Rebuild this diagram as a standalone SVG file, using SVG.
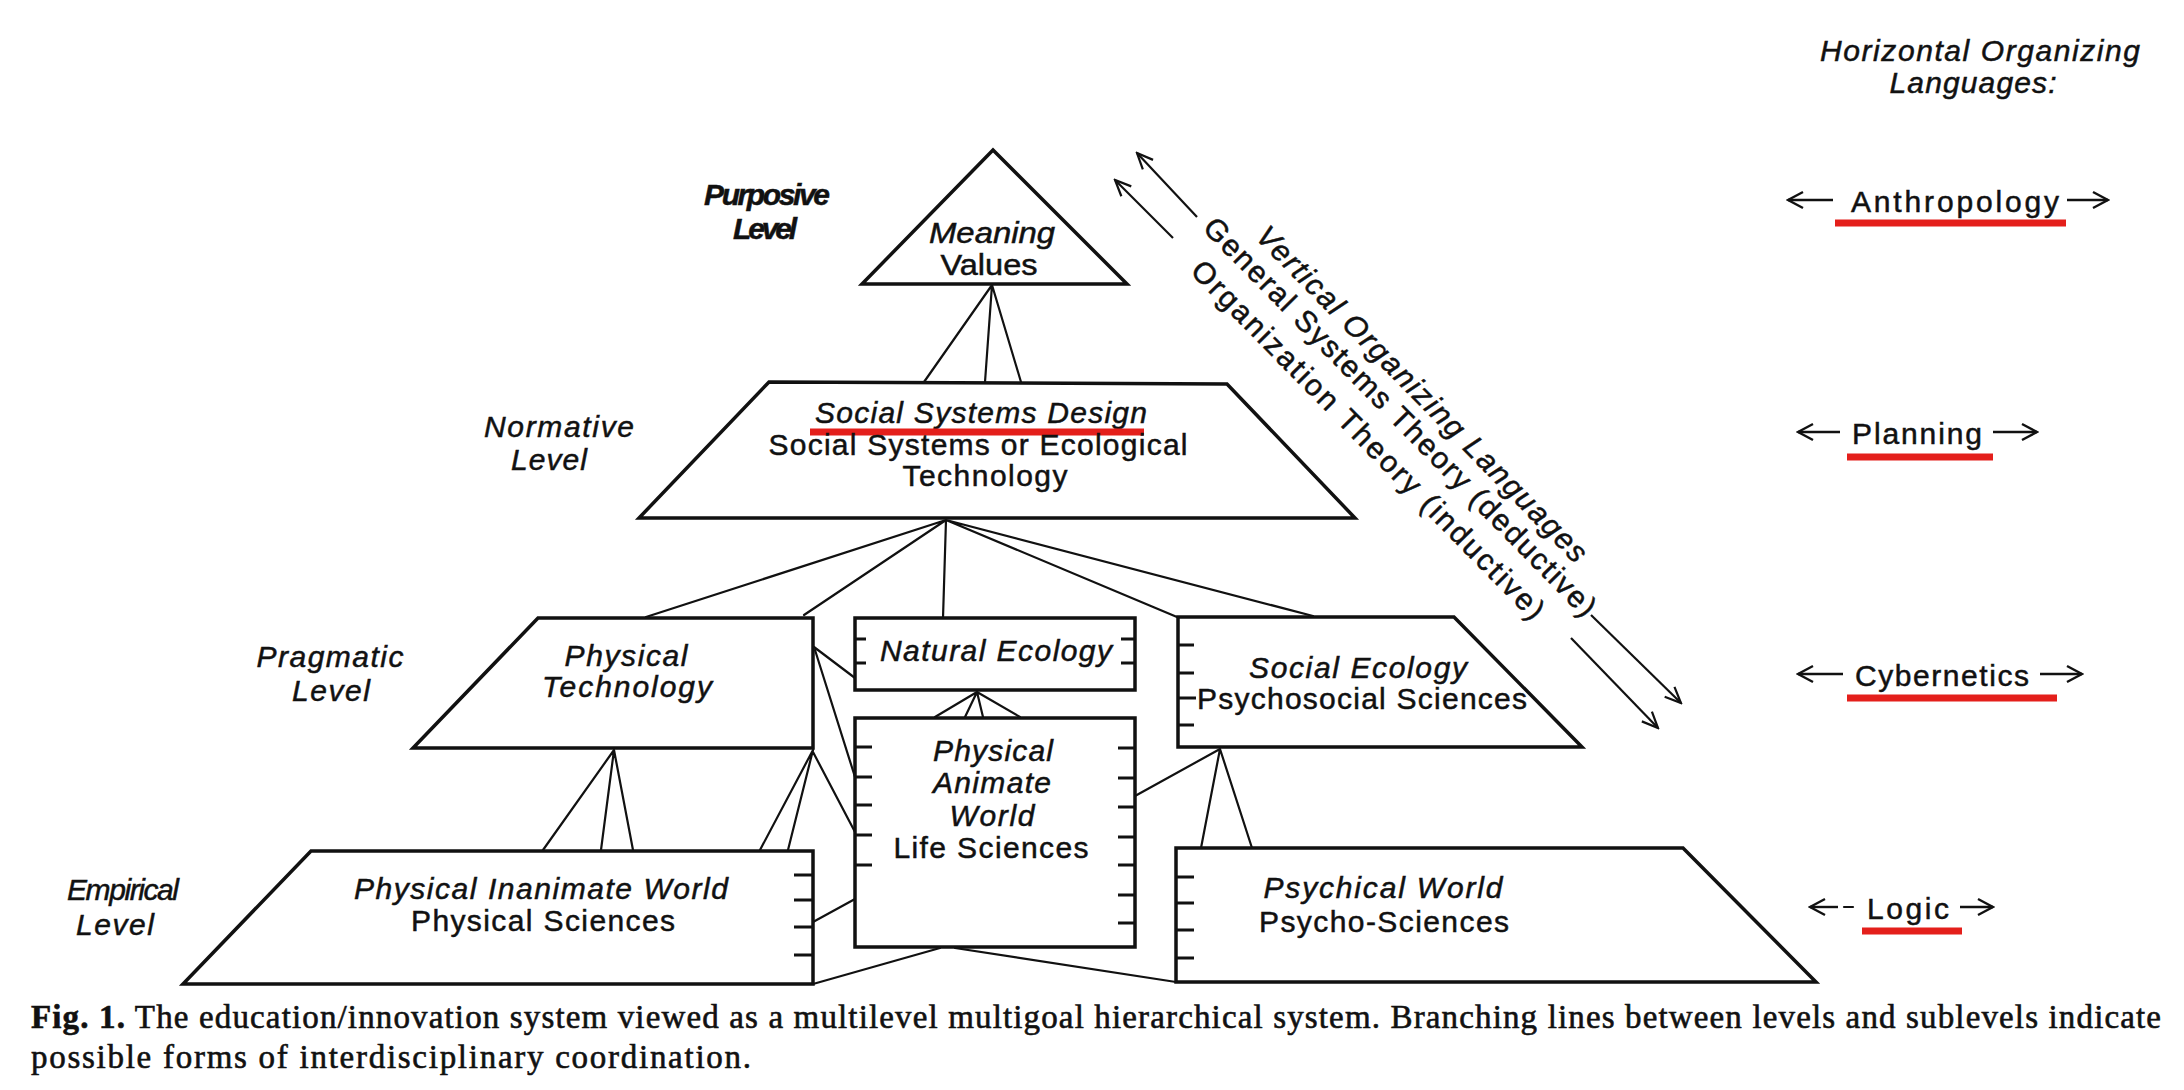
<svg xmlns="http://www.w3.org/2000/svg" width="2184" height="1090" viewBox="0 0 2184 1090">
<style>
.shape{fill:#fff;stroke:#111;stroke-width:3.5;stroke-linejoin:miter}
.ln{stroke:#111;stroke-width:2.2;fill:none;stroke-linecap:round}
.hl{stroke:#111;stroke-width:1.8;fill:none}
.tk{stroke:#111;stroke-width:2.8;fill:none}
.t{font-family:"Liberation Sans",Arial,Helvetica,sans-serif;fill:#111;stroke:#111;stroke-width:0.5;font-size:30px;text-anchor:middle}
.i{font-style:italic}
.b{font-weight:bold}
.red{stroke:#e41f1b;stroke-width:7;fill:none}
.arr{stroke:#111;stroke-width:2.4;fill:none;marker-end:url(#ah)}
.darr{stroke:#111;stroke-width:2.2;fill:none;marker-end:url(#ahd)}
.cap{font-family:"Liberation Serif","Times New Roman",serif;fill:#111;stroke:#111;stroke-width:0.6;font-size:33px}
</style>
<defs>
<marker id="ah" viewBox="0 0 20 20" markerUnits="userSpaceOnUse" markerWidth="20" markerHeight="20" refX="18" refY="10" orient="auto">
<path d="M3,2 L18,10 L3,18" fill="none" stroke="#111" stroke-width="2.4"/>
</marker>
<marker id="ahd" viewBox="0 0 20 20" markerUnits="userSpaceOnUse" markerWidth="20" markerHeight="20" refX="18" refY="10" orient="auto">
<path d="M2,3 L18,10 L2,17" fill="none" stroke="#111" stroke-width="2.2"/>
</marker>
</defs>
<rect width="2184" height="1090" fill="#fff"/>

<g id="connectors">
<path class="ln" d="M992,285 L924,382 M992,285 L985,382 M992,285 L1021,382"/>
<path class="ln" d="M946,520 L646,617 M946,520 L804,615 M946,520 L943,618 M946,520 L1177,617 M946,520 L1313,616"/>
<path class="ln" d="M614,750 L543,850 M614,750 L601,850 M614,750 L633,850"/>
<path class="ln" d="M813,750 L760,850 M813,750 L788,850 M813,752 L855,832"/>
<path class="ln" d="M814,647 L855,678 M815,650 L855,777"/>
<path class="ln" d="M977,692 L935,717 M977,692 L965,717 M977,692 L983,717 M977,692 L1020,717"/>
<path class="ln" d="M813,922 L855,899"/>
<path class="ln" d="M940,948 L813,984 M955,948 L1176,982"/>
<path class="ln" d="M1220,749 L1201,848 M1220,749 L1252,848 M1220,749 L1135,796"/>
<path class="hl" d="M796,621 L775,648 M796,621 L808,648 M796,621 L791,648 M796,621 L800,648
M777,650 L762,680 M777,650 L770,680 M777,650 L778,680 M777,650 L788,680 M777,650 L783,680
M788,682 L773,708 M788,682 L782,708 M788,682 L792,708 M788,682 L800,708
M768,710 L745,747 M768,710 L753,747 M768,710 L762,747 M768,710 L772,747
M795,711 L778,747 M795,711 L797,747 M795,711 L810,747"/>
<path class="tk" d="M765,648 H813 M760,680 H813 M755,708 H813"/>
<path class="hl" d="M880,867 L858,893 H895 Z M880,867 L868,893 M877,872 V893"/>
<path class="hl" d="M855,899 L898,947 M855,919 H875 M874,921 L860,947 M874,921 L868,947 M879,926 V947"/>
</g>

<g id="purposive">
<polygon class="shape" points="993,150 1127,284 862,284"/>
<text class="t i" x="992" y="243" font-size="28" textLength="126" lengthAdjust="spacingAndGlyphs">Meaning</text>
<text class="t" x="989" y="275" font-size="28" textLength="97" lengthAdjust="spacingAndGlyphs">Values</text>
</g>

<g id="normative">
<polygon class="shape" points="769,382 1227,384 1355,518 639,518"/>
<text class="t i" x="981" y="423" textLength="332">Social Systems Design</text>
<line class="red" x1="810" y1="432" x2="1144" y2="432"/>
<text class="t" x="978" y="455" font-size="29" textLength="419">Social Systems or Ecological</text>
<text class="t" x="985" y="486" font-size="29" textLength="165">Technology</text>
</g>

<g id="physical-technology">
<polygon class="shape" points="538,618 813,618 813,748 413,748"/>
<text class="t i" x="626" y="666" textLength="123">Physical</text>
<text class="t i" x="627" y="697" textLength="170">Technology</text>
</g>

<g id="natural-ecology">
<rect class="shape" x="855" y="618" width="280" height="72"/>
<path class="tk" d="M855,639 H866 M855,663 H866 M1121,639 H1135 M1121,663 H1135"/>
<text class="t i" x="996" y="661" textLength="232">Natural Ecology</text>
</g>

<g id="physical-animate-world">
<rect class="shape" x="855" y="718" width="280" height="229"/>
<path class="tk" d="M855,747 H872 M855,777 H872 M855,805 H872 M855,835 H872 M855,865 H872
M1118,748 H1135 M1118,778 H1135 M1118,807 H1135 M1118,837 H1135 M1118,865 H1135 M1118,895 H1135 M1118,923 H1135"/>
<text class="t i" x="993" y="761" textLength="120">Physical</text>
<text class="t i" x="992" y="793" textLength="118">Animate</text>
<text class="t i" x="992" y="826" textLength="85">World</text>
<text class="t" x="991" y="858" textLength="195">Life Sciences</text>
</g>

<g id="social-ecology">
<polygon class="shape" points="1178,617 1454,617 1582,747 1178,747"/>
<path class="tk" d="M1178,645 H1194 M1178,673 H1194 M1178,698 H1196 M1178,725 H1194"/>
<text class="t i" x="1358" y="678" textLength="218">Social Ecology</text>
<text class="t" x="1362" y="709" textLength="330">Psychosocial Sciences</text>
</g>

<g id="physical-inanimate-world">
<polygon class="shape" points="311,851 813,851 813,984 183,984"/>
<path class="tk" d="M794,875 H813 M794,900 H813 M794,927 H813 M794,955 H813"/>
<text class="t i" x="541" y="899" textLength="374">Physical Inanimate World</text>
<text class="t" x="543" y="931" textLength="264">Physical Sciences</text>
</g>

<g id="psychical-world">
<polygon class="shape" points="1176,848 1683,848 1816,982 1176,982"/>
<path class="tk" d="M1176,877 H1194 M1176,903 H1194 M1176,930 H1194 M1176,958 H1194"/>
<text class="t i" x="1383" y="898" textLength="239">Psychical World</text>
<text class="t" x="1384" y="932" textLength="250">Psycho-Sciences</text>
</g>

<g id="level-labels">
<text class="t i b" x="767" y="205" font-size="27" textLength="126">Purposive</text>
<text class="t i b" x="765" y="239" font-size="27" textLength="64">Level</text>
<text class="t i" x="559" y="437" textLength="150">Normative</text>
<text class="t i" x="549" y="470" textLength="76">Level</text>
<text class="t i" x="330" y="667" textLength="147">Pragmatic</text>
<text class="t i" x="331" y="701" textLength="78">Level</text>
<text class="t i" x="123" y="900" textLength="112">Empirical</text>
<text class="t i" x="115" y="935" textLength="78">Level</text>
</g>

<g id="vertical-languages">
<line class="darr" x1="1197" y1="217" x2="1137" y2="153"/>
<line class="darr" x1="1173" y1="238" x2="1115" y2="180"/>
<line class="darr" x1="1591" y1="615" x2="1681" y2="703"/>
<line class="darr" x1="1571" y1="638" x2="1658" y2="728"/>
<g transform="translate(1422,394) rotate(45.5)"><text class="t i" x="0" y="10" font-size="29" textLength="458">Vertical Organizing Languages</text></g>
<g transform="translate(1400,417) rotate(45.5)"><text class="t" x="0" y="10" font-size="29" textLength="546">General Systems Theory (deductive)</text></g>
<g transform="translate(1368,440) rotate(45.5)"><text class="t" x="0" y="10" font-size="29" textLength="490">Organization Theory (inductive)</text></g>
</g>

<g id="horizontal-languages">
<text class="t i" x="1980" y="61" font-size="28" textLength="320">Horizontal Organizing</text>
<text class="t i" x="1973" y="93" font-size="28" textLength="167">Languages:</text>
</g>

<g id="anthropology">
<line class="arr" x1="1833" y1="200" x2="1788" y2="200"/>
<line class="arr" x1="2067" y1="200" x2="2108" y2="200"/>
<text class="t" x="1955" y="212" font-size="34" textLength="208">Anthropology</text>
<line class="red" x1="1835" y1="223" x2="2066" y2="223"/>
</g>

<g id="planning">
<line class="arr" x1="1840" y1="432" x2="1798" y2="432"/>
<line class="arr" x1="1993" y1="432" x2="2037" y2="432"/>
<text class="t" x="1917" y="444" font-size="34" textLength="130">Planning</text>
<line class="red" x1="1847" y1="457" x2="1993" y2="457"/>
</g>

<g id="cybernetics">
<line class="arr" x1="1843" y1="674" x2="1798" y2="674"/>
<line class="arr" x1="2040" y1="674" x2="2082" y2="674"/>
<text class="t" x="1942" y="686" font-size="34" textLength="174">Cybernetics</text>
<line class="red" x1="1847" y1="698" x2="2057" y2="698"/>
</g>

<g id="logic">
<line class="ln" x1="1853" y1="907" x2="1844" y2="907"/>
<line class="arr" x1="1838" y1="907" x2="1810" y2="907"/>
<line class="arr" x1="1960" y1="907" x2="1993" y2="907"/>
<text class="t" x="1908" y="919" font-size="34" textLength="82">Logic</text>
<line class="red" x1="1862" y1="931" x2="1962" y2="931"/>
</g>

<g id="caption">
<text class="cap" x="31" y="1028" textLength="2130"><tspan font-weight="bold">Fig. 1.</tspan> The education/innovation system viewed as a multilevel multigoal hierarchical system. Branching lines between levels and sublevels indicate</text>
<text class="cap" x="31" y="1068" textLength="720">possible forms of interdisciplinary coordination.</text>
</g>
</svg>
